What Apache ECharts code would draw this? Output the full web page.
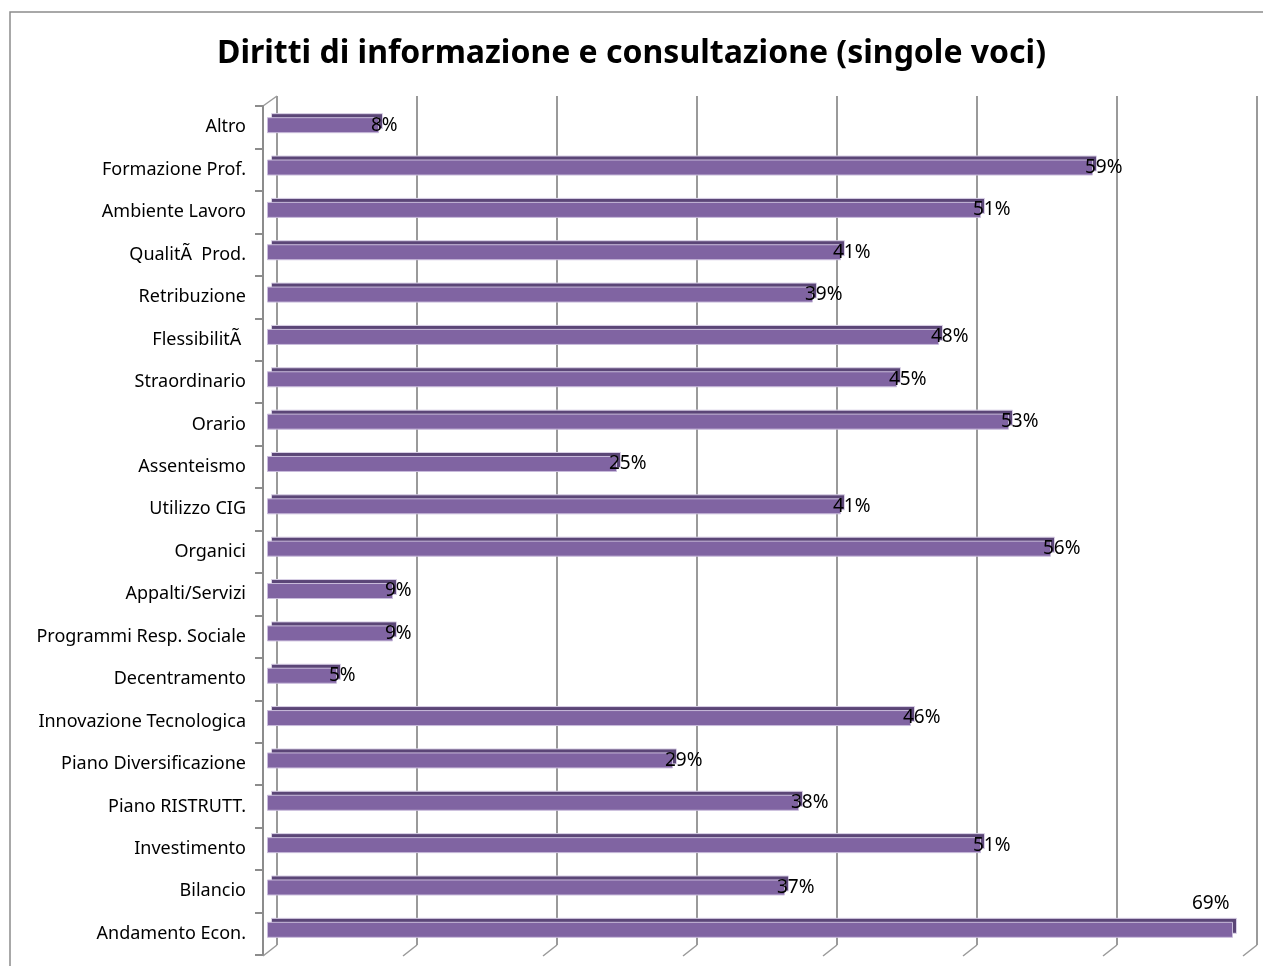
<!DOCTYPE html>
<html>
<head>
<meta charset="utf-8">
<script src="https://cdn.jsdelivr.net/npm/echarts@6/dist/echarts.min.js"></script>
<style>
  html, body { margin: 0; padding: 0; background: #fff; }
  #chart { width: 1263px; height: 966px; }
</style>
</head>
<body>
<div id="chart"></div>
<script>
// categorie dal basso verso l'alto
const categories = [
  'Andamento Econ.', 'Bilancio', 'Investimento', 'Piano RISTRUTT.', 'Piano Diversificazione',
  'Innovazione Tecnologica', 'Decentramento', 'Programmi Resp. Sociale', 'Appalti/Servizi', 'Organici',
  'Utilizzo CIG', 'Assenteismo', 'Orario', 'Straordinario', 'FlessibilitÃ\u00a0',
  'Retribuzione', 'QualitÃ\u00a0 Prod.', 'Ambiente Lavoro', 'Formazione Prof.', 'Altro'
];
const values = [69, 37, 51, 38, 29, 46, 5, 9, 9, 56, 41, 25, 53, 45, 48, 39, 41, 51, 59, 8];
const axisMax = 70;
const axisStep = 10;
const titleText = 'Diritti di informazione e consultazione (singole voci)';

const FONT = '"Noto Sans", "Open Sans", sans-serif';
const DEPTH_X = 14, DEPTH_Y = 11; // profondità della parete 3D

let chart = echarts.init(document.getElementById('chart'));

// etichette dati: la più lunga (69%) sta sopra la barra
let frontData = values.map(function (v) {
  if (v === Math.max.apply(null, values)) {
    return { value: v, label: { offset: [-46, -26] } };
  }
  return v;
});

let hiddenValueAxis = function (grid, showSplit) {
  return {
    type: 'value', gridIndex: grid, min: 0, max: axisMax, interval: axisStep,
    axisLine: { show: false }, axisTick: { show: false }, axisLabel: { show: false },
    splitLine: { show: !!showSplit, lineStyle: { color: '#9a9a9a', width: 2 } }
  };
};
let hiddenCatAxis = function (grid) {
  return {
    type: 'category', gridIndex: grid, data: categories,
    axisLine: { show: false }, axisTick: { show: false }, axisLabel: { show: false }
  };
};

let option = {
  animation: false,
  backgroundColor: '#fff',
  title: {
    text: titleText,
    left: 'center',
    top: 33,
    textStyle: { fontFamily: FONT, fontSize: 32, fontWeight: 'bold', color: '#000' }
  },
  grid: [
    // 0: facce frontali delle barre
    { left: 267, right: 16, top: 104, bottom: 15 },
    // 1: facce superiori (spostate in alto a destra)
    { left: 271, right: 12, top: 100, bottom: 19 },
    // 2: parete di fondo con le linee della griglia
    { left: 277, right: 6, top: 96, bottom: 21 },
    // 3: asse delle categorie
    { left: 263, right: 20, top: 106, bottom: 11 }
  ],
  xAxis: [
    hiddenValueAxis(0), hiddenValueAxis(1), hiddenValueAxis(2, true), hiddenValueAxis(3)
  ],
  yAxis: [
    hiddenCatAxis(0), hiddenCatAxis(1), hiddenCatAxis(2),
    {
      type: 'category', gridIndex: 3, data: categories,
      axisLine: { show: true, lineStyle: { color: '#8c8c8c', width: 2 } },
      axisTick: { show: true, length: 8, lineStyle: { color: '#8c8c8c', width: 2 } },
      axisLabel: { margin: 17, color: '#000', fontFamily: FONT, fontSize: 18 }
    }
  ],
  series: [
    {
      name: 'top', type: 'bar', xAxisIndex: 1, yAxisIndex: 1, z: 2,
      data: values, barWidth: 16, silent: true,
      itemStyle: { color: '#5b4677', borderColor: '#d9d0e6', borderWidth: 1 }
    },
    {
      name: 'front', type: 'bar', xAxisIndex: 0, yAxisIndex: 0, z: 3,
      data: frontData, barWidth: 16,
      itemStyle: { color: '#8064a2', borderColor: '#c9bcdb', borderWidth: 1 },
      label: {
        show: true, position: 'right', offset: [-13, 0],
        formatter: '{c}%', color: '#000', fontFamily: FONT, fontSize: 19
      }
    }
  ]
};
chart.setOption(option);

// cornice e diagonali della parete 3D
let gfx = [{
  type: 'rect', z: 0, silent: true,
  shape: { x: 10, y: 12, width: 1300, height: 1000 },
  style: { fill: 'none', stroke: '#8c8c8c', lineWidth: 1.5 }
}];
for (let v = 0; v <= axisMax; v += axisStep) {
  let px = chart.convertToPixel({ xAxisIndex: 2 }, v);
  gfx.push({
    type: 'line', silent: true, z: 1,
    shape: { x1: px, y1: 945, x2: px - DEPTH_X, y2: 945 + DEPTH_Y },
    style: { stroke: '#9a9a9a', lineWidth: 1.5 }
  });
}
gfx.push({
  type: 'line', silent: true,
  shape: { x1: 263, y1: 106, x2: 263 + DEPTH_X, y2: 106 - DEPTH_Y + 1 },
  style: { stroke: '#9a9a9a', lineWidth: 1.5 }
});
chart.setOption({ graphic: gfx });
</script>
</body>
</html>
